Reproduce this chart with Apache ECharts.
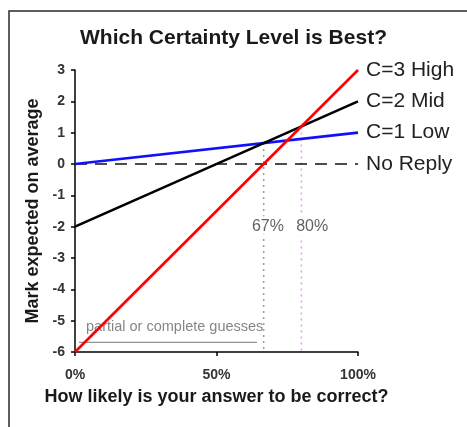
<!DOCTYPE html>
<html>
<head>
<meta charset="utf-8">
<script src="https://cdn.jsdelivr.net/npm/echarts@6/dist/echarts.min.js"></script>
<style>
  html, body { margin: 0; padding: 0; background: #fff; }
  #chart { width: 467px; height: 427px; }
</style>
</head>
<body>
<div id="chart"></div>
<script>
// chance of being right (%) at the two ends of each line
const probEnds = [0, 100];

// expected mark at 0% and 100%
const highMarks = [-6, 3];
const midMarks = [-2, 2];
const lowMarks = [0, 1];
const noReplyMarks = [0, 0];

const seriesNames = ['C=3 High', 'C=2 Mid', 'C=1 Low', 'No Reply'];

// crossover points: [prob %, mark where the lines meet]
const crossLow = [66.67, 0.667];
const crossHigh = [80, 1.2];
const crossLabels = ['67%', '80%'];

const guessNote = 'partial or complete guesses';
const guessSpan = [1.4, 64.3];

const yTicks = [-6, -5, -4, -3, -2, -1, 0, 1, 2, 3];

const chart = echarts.init(document.getElementById('chart'));

const toPoints = (vals) => probEnds.map((p, i) => [p, vals[i]]);

const lineSeries = (name, vals, color, type, width) => ({
    name: name,
    type: 'line',
    data: toPoints(vals),
    symbol: 'none',
    silent: true,
    z: 5,
    lineStyle: { color: color, width: width, type: type },
    endLabel: {
        show: true,
        formatter: name,
        color: '#222',
        fontSize: 21,
        fontFamily: 'Liberation Sans, Arial, sans-serif',
        distance: 8,
    },
});

const dropLine = (pt, color) => ({
    type: 'line',
    data: [[pt[0], pt[1]], [pt[0], yTicks[0]]],
    symbol: 'none',
    silent: true,
    z: 2,
    lineStyle: { color: color, width: 1.5, type: [2, 4] },
});

const option = {
    backgroundColor: '#fff',
    animation: false,
    title: {
        text: 'Which Certainty Level is Best?',
        left: 'center',
        top: 23,
        textStyle: {
            color: '#1a1a1a',
            fontSize: 21,
            fontWeight: 'bold',
            fontFamily: 'Liberation Sans, Arial, sans-serif',
        },
    },
    graphic: [
        {
            type: 'rect',
            shape: { x: 9, y: 11, width: 480, height: 440 },
            style: { fill: 'none', stroke: '#2a2a2a', lineWidth: 1.5 },
            silent: true,
        },
    ],
    grid: { left: 75, right: 109, top: 70, bottom: 75 },
    xAxis: {
        type: 'value',
        min: 0,
        max: 100,
        interval: 50,
        name: 'How likely is your answer to be correct?',
        nameLocation: 'middle',
        nameGap: 36,
        nameTextStyle: {
            color: '#1a1a1a',
            fontSize: 18,
            fontWeight: 'bold',
            fontFamily: 'Liberation Sans, Arial, sans-serif',
        },
        axisLine: { show: true, onZero: false, lineStyle: { color: '#000', width: 1.5 } },
        axisTick: { show: true, length: 4, lineStyle: { color: '#000', width: 1.5 } },
        axisLabel: {
            formatter: '{value}%',
            color: '#333',
            fontSize: 14,
            fontWeight: 'bold',
            fontFamily: 'Liberation Sans, Arial, sans-serif',
            margin: 16,
        },
        splitLine: { show: false },
    },
    yAxis: {
        type: 'value',
        min: -6,
        max: 3,
        interval: 1,
        name: 'Mark expected on average',
        nameLocation: 'middle',
        nameRotate: 90,
        nameGap: 27,
        nameTextStyle: {
            color: '#1a1a1a',
            fontSize: 18,
            fontWeight: 'bold',
            fontFamily: 'Liberation Sans, Arial, sans-serif',
        },
        axisLine: { show: true, onZero: false, lineStyle: { color: '#000', width: 1.5 } },
        axisTick: { show: true, length: 4, lineStyle: { color: '#000', width: 1.5 } },
        axisLabel: {
            color: '#333',
            fontSize: 14,
            fontWeight: 'bold',
            fontFamily: 'Liberation Sans, Arial, sans-serif',
            margin: 10,
        },
        splitLine: { show: false },
    },
    series: [
        dropLine(crossLow, '#c48a8a'),
        dropLine(crossHigh, '#dfa0ea'),
        {
            // labels on the drop lines, white box hides the dots behind
            type: 'scatter',
            symbolSize: 0,
            silent: true,
            z: 3,
            data: [
                { value: [crossLow[0] + 1.5, -2.0], label: { formatter: crossLabels[0] } },
                { value: [crossHigh[0] + 3.8, -2.0], label: { formatter: crossLabels[1] } },
            ],
            label: {
                show: true,
                position: 'inside',
                color: '#3a3a3a',
                fontSize: 16,
                fontFamily: 'Liberation Sans, Arial, sans-serif',
                backgroundColor: '#fff',
                padding: [3, 1],
            },
        },
        {
            type: 'line',
            data: [[guessSpan[0], -5.69], [guessSpan[1], -5.69]],
            symbol: 'none',
            silent: true,
            z: 1,
            lineStyle: { color: '#777', width: 1 },
        },
        {
            type: 'scatter',
            symbolSize: 0,
            silent: true,
            z: 1,
            data: [[3.9, -5.2]],
            label: {
                show: true,
                position: 'inside',
                align: 'left',
                formatter: guessNote,
                color: '#666',
                fontSize: 14.5,
                fontFamily: 'Liberation Sans, Arial, sans-serif',
            },
        },
        lineSeries(seriesNames[3], noReplyMarks, '#111', [12, 8], 1.5),
        lineSeries(seriesNames[2], lowMarks, '#1010ff', 'solid', 2.6),
        lineSeries(seriesNames[1], midMarks, '#000', 'solid', 2.6),
        lineSeries(seriesNames[0], highMarks, '#ff0000', 'solid', 2.6),
    ],
};

chart.setOption(option);
</script>
</body>
</html>
